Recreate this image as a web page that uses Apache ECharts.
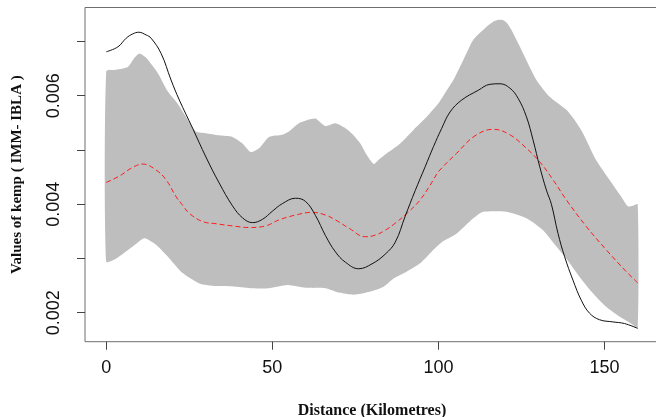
<!DOCTYPE html>
<html>
<head>
<meta charset="utf-8">
<script src="https://cdn.jsdelivr.net/npm/echarts@6/dist/echarts.min.js"></script>
<style>
html,body{margin:0;padding:0;background:#fff;}
#chart{width:656px;height:417px;}
</style>
</head>
<body>
<div id="chart"></div>
<script>
// Black solid line (distance km, value)
const blackX = [0,3.5,6,8,9.8,12,13.5,16.5,19.5,22,26,30,34,38,41,44,47,50,53,57,60,63,66,69,72,76,80,84,87,90,93,96,98.5,101,103.5,107,112,115.5,118.5,121.5,124,126.5,128.5,130.5,132.5,134,136,138,140.5,143,145.5,148.5,152.5,156,160];
const blackY = [0.00681,0.00690,0.00706,0.00714,0.00717,0.00712,0.00706,0.00678,0.00629,0.00592,0.00540,0.00487,0.00439,0.00397,0.00375,0.00366,0.00372,0.00387,0.00401,0.00411,0.00405,0.00379,0.00342,0.00312,0.00293,0.00281,0.00290,0.00308,0.00330,0.00378,0.00425,0.00469,0.00506,0.00540,0.00570,0.00592,0.00610,0.00621,0.00622,0.00614,0.00595,0.00561,0.00518,0.00469,0.00426,0.00400,0.00346,0.00303,0.00260,0.00223,0.00199,0.00187,0.00183,0.00180,0.00171];

// Red dashed line
const redX = [0,4,8,11,15,18,21,23,25,29,33,38,43,48,52,57,62,66,69,73,78,81,84,87,90.5,94.5,98.5,100,105.5,111,116.5,121.5,126.5,130.5,134.5,138.5,144.5,150.5,156.5,160];
const redY = [0.00440,0.00452,0.00468,0.00474,0.00463,0.00445,0.00414,0.00398,0.00383,0.00368,0.00364,0.00360,0.00357,0.00360,0.00371,0.00380,0.00385,0.00380,0.00371,0.00356,0.00340,0.00343,0.00352,0.00365,0.00383,0.00408,0.00445,0.00460,0.00494,0.00526,0.00538,0.00528,0.00503,0.00478,0.00445,0.00408,0.00359,0.00316,0.00276,0.00255];

// Grey band upper edge
const upperX = [0,3,6.5,8.5,10,12,15.5,18.5,21.5,24,27,30,34,38,41,43.5,46,49,53,55,58,61,63,66,69,72,74,76.5,78.5,80.5,82,84.5,88.5,92.5,96.5,100,102,104.5,107.5,110.5,114.5,117,119,120.5,122,125.5,129.5,133.5,138.5,141,143.5,147.5,151.5,155,157,158.5,160];
const upperY = [0.00645,0.00648,0.00653,0.00670,0.00678,0.00670,0.00642,0.00608,0.00585,0.00561,0.00534,0.00531,0.00527,0.00524,0.00512,0.00496,0.00503,0.00524,0.00528,0.00534,0.00549,0.00556,0.00558,0.00544,0.00549,0.00540,0.00530,0.00512,0.00490,0.00474,0.00482,0.00494,0.00512,0.00537,0.00561,0.00586,0.00605,0.00629,0.00666,0.00703,0.00727,0.00738,0.00740,0.00735,0.00721,0.00678,0.00629,0.00598,0.00574,0.00555,0.00531,0.00481,0.00445,0.00414,0.00396,0.00397,0.00400];

// Grey band lower edge
const lowerX = [0,3,8,11.5,15,19,23,28,33,39,44,49,54.5,60,66,70,74.5,79.5,83.5,86.5,90.5,94.5,98.5,101,105.5,110.5,113.5,120.5,126.5,131.5,135.5,138.5,142.5,146.5,150.5,154.5,158,160];
const lowerY = [0.00294,0.00300,0.00322,0.00337,0.00325,0.00300,0.00273,0.00254,0.00249,0.00248,0.00245,0.00245,0.00251,0.00246,0.00245,0.00237,0.00233,0.00239,0.00248,0.00263,0.00276,0.00291,0.00316,0.00330,0.00346,0.00374,0.00386,0.00386,0.00374,0.00352,0.00322,0.00300,0.00266,0.00236,0.00211,0.00193,0.00180,0.00172];

const xTicks = [0, 50, 100, 150];
const yTicks = [0.002, 0.003, 0.004, 0.005, 0.006, 0.007];
const yLabels = [0.002, 0.004, 0.006];

const pair = (xs, ys) => xs.map((x, i) => [x, ys[i]]);

const chart = echarts.init(document.getElementById('chart'), null, {renderer: 'canvas'});
chart.setOption({
  animation: false,
  backgroundColor: '#ffffff',
  grid: {
    left: 85, top: 7.5, right: -3, bottom: 75.3,
    outerBoundsMode: 'none', containLabel: false,
    show: true, borderColor: '#6e6e6e', borderWidth: 1, backgroundColor: 'transparent'
  },
  xAxis: {
    type: 'value', min: -6.4, max: 166.4,
    axisLine: {show: false, onZero: false},
    splitLine: {show: false},
    axisTick: {show: true, length: 8, lineStyle: {color: '#444'}, customValues: xTicks},
    axisLabel: {show: true, margin: 17, fontSize: 18, color: '#111', fontFamily: 'Liberation Sans, Arial, sans-serif', customValues: xTicks},
    name: 'Distance (Kilometres)', nameLocation: 'middle', nameGap: 61,
    nameTextStyle: {fontFamily: 'Liberation Serif, Times New Roman, serif', fontWeight: 'bold', fontSize: 16, color: '#111'}
  },
  yAxis: {
    type: 'value', min: 0.001465, max: 0.007626,
    axisLine: {show: false, onZero: false},
    splitLine: {show: false},
    axisTick: {show: true, length: 8, lineStyle: {color: '#444'}, customValues: yTicks},
    axisLabel: {show: true, rotate: 90, margin: 22, fontSize: 18, color: '#111', fontFamily: 'Liberation Sans, Arial, sans-serif', customValues: yLabels,
      formatter: v => v.toFixed(3)},
    name: 'Values of kemp ( IMM- IBLA )', nameLocation: 'middle', nameGap: 60, nameRotate: 90,
    nameTextStyle: {fontFamily: 'Liberation Serif, Times New Roman, serif', fontWeight: 'bold', fontSize: 15, color: '#111'}
  },
  series: [
    {
      type: 'custom',
      coordinateSystem: 'cartesian2d',
      data: [[0, 0]],
      silent: true,
      z: 1,
      renderItem: function (params, api) {
        const pts = [];
        for (let i = 0; i < upperX.length; i++) pts.push(api.coord([upperX[i], upperY[i]]));
        for (let i = lowerX.length - 1; i >= 0; i--) pts.push(api.coord([lowerX[i], lowerY[i]]));
        return {
          type: 'polygon',
          shape: {points: pts, smooth: 0.2},
          style: {fill: '#bebebe', stroke: null}
        };
      }
    },
    {
      type: 'line', data: pair(redX, redY), smooth: 0.4, symbol: 'none', z: 3,
      lineStyle: {color: '#ff1a1a', width: 1, type: [5, 3]}
    },
    {
      type: 'line', data: pair(blackX, blackY), smooth: 0.4, symbol: 'none', z: 4,
      lineStyle: {color: '#111', width: 1}
    }
  ]
});
</script>
</body>
</html>
